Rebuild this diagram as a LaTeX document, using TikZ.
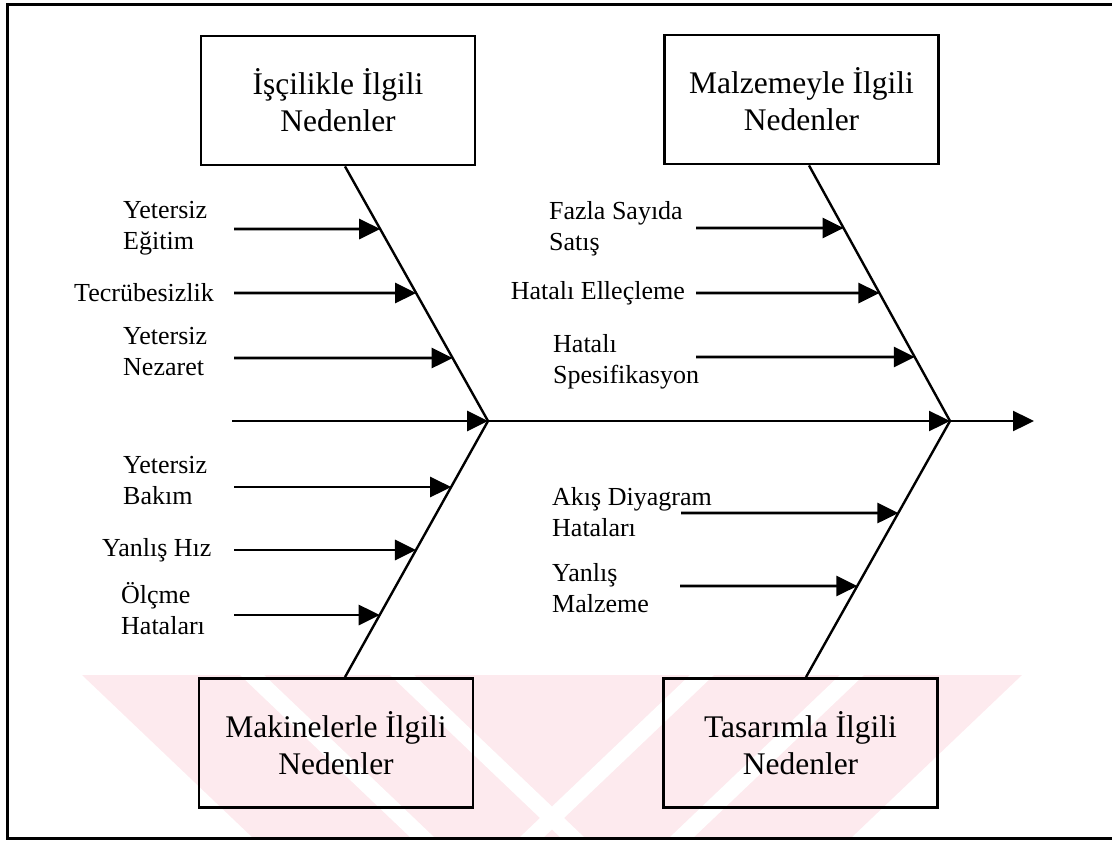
\documentclass[tikz,border=0pt]{standalone}
\usepackage{fontspec}
\setmainfont{Liberation Serif}
\usetikzlibrary{arrows.meta,calc}
\definecolor{wmpink}{RGB}{253,234,238}
\begin{document}
\begin{tikzpicture}[x=1pt,y=-1pt,
  causebox/.style={draw, line width=2.8pt, minimum width=274pt, minimum height=129pt,
    inner sep=0pt, align=center, font=\fontsize{31.5}{37}\selectfont},
  causelabel/.style={inner sep=0pt, align=left, font=\fontsize{26}{31}\selectfont},
  bone/.style={line width=2.4pt},
  bigtip/.style={-{Triangle[length=21pt,width=20pt]}},
  feed/.style={line width=2.9pt, bigtip},
]
\useasboundingbox (0,0) rectangle (1112,841);

% faint chevron band behind the lower boxes
\begin{scope}
  \clip (7,675) rectangle (1112,838);
  \fill[wmpink] (82,675) -- (1022,675) -- (851,838) -- (253,838) -- cycle;
  \foreach \t in {240,390}
    \fill[white] (\t,675) -- (\t+24,675) -- (\t+195,838) -- (\t+171,838) -- cycle;
  \foreach \t in {714,864}
    \fill[white] (\t,675) -- (\t-24,675) -- (\t-195,838) -- (\t-171,838) -- cycle;
\end{scope}

% outer frame (open on the right)
\draw[line width=3pt] (1118,4) -- (7,4) -- (7,838) -- (1118,838);

% category boxes
\node[causebox] (b1) at (338,100.5) {İşçilikle İlgili\\Nedenler};
\node[causebox] (b2) at (801.5,99.5) {Malzemeyle İlgili\\Nedenler};
\node[causebox] (b3) at (336,743) {Makinelerle İlgili\\Nedenler};
\node[causebox] (b4) at (800.5,743) {Tasarımla İlgili\\Nedenler};

% spine and bones
\coordinate (s0) at (232,421);
\coordinate (j1) at (488,421);
\coordinate (j2) at (950,421);
\coordinate (s3) at (1034,421);
\coordinate (d1) at ([xshift=7pt]b1.south);
\coordinate (d2) at ([xshift=7.5pt]b2.south);
\coordinate (d3) at ([xshift=9pt]b3.north);
\coordinate (d4) at ([xshift=5.5pt]b4.north);

\draw[feed] (s0) -- (j1);
\draw[bone, bigtip] (j1) -- (j2);
\draw[bone, bigtip] (j2) -- (s3);
\draw[bone] (d1) -- (j1) -- (d3);
\draw[bone] (d2) -- (j2) -- (d4);

% causes, left side
\node[causelabel, anchor=west] (l1) at (123,228) {Yetersiz\\Eğitim};
\node[causelabel, anchor=west] (l2) at (74,293) {Tecrübesizlik};
\node[causelabel, anchor=west] (l3) at (123,352) {Yetersiz\\Nezaret};
\node[causelabel, anchor=west] (l4) at (123,481) {Yetersiz\\Bakım};
\node[causelabel, anchor=west] (l5) at (102,550) {Yanlış Hız};
\node[causelabel, anchor=west] (l6) at (121,609) {Ölçme\\Hataları};

\coordinate (a1) at (234,229);
\coordinate (a2) at (234,293);
\coordinate (a3) at (234,358);
\coordinate (a4) at (234,487);
\coordinate (a5) at (234,550);
\coordinate (a6) at (234,615);

\draw[feed] (a1) -- (intersection of d1--j1 and 0,229--1112,229);
\draw[feed] (a2) -- (intersection of d1--j1 and 0,293--1112,293);
\draw[feed] (a3) -- (intersection of d1--j1 and 0,358--1112,358);
\draw[feed] (a4) -- (intersection of j1--d3 and 0,487--1112,487);
\draw[feed] (a5) -- (intersection of j1--d3 and 0,550--1112,550);
\draw[feed] (a6) -- (intersection of j1--d3 and 0,615--1112,615);

% causes, right side
\node[causelabel, anchor=west] (r1) at (549,229) {Fazla Sayıda\\Satış};
\node[causelabel, anchor=east] (r2) at (685,293) {Hatalı Elleçleme};
\node[causelabel, anchor=west] (r3) at (553,362) {Hatalı\\Spesifikasyon};
\node[causelabel, anchor=west] (r4) at (552,512) {Akış Diyagram\\Hataları};
\node[causelabel, anchor=west] (r5) at (552,588) {Yanlış\\Malzeme};

\coordinate (e1) at (696,228);
\coordinate (e2) at (696,293);
\coordinate (e3) at (696,357);
\coordinate (e4) at (681,513);
\coordinate (e5) at (680,586);

\draw[feed] (e1) -- (intersection of d2--j2 and 0,228--1112,228);
\draw[feed] (e2) -- (intersection of d2--j2 and 0,293--1112,293);
\draw[feed] (e3) -- (intersection of d2--j2 and 0,357--1112,357);
\draw[feed] (e4) -- (intersection of j2--d4 and 0,513--1112,513);
\draw[feed] (e5) -- (intersection of j2--d4 and 0,586--1112,586);
\end{tikzpicture}
\end{document}
